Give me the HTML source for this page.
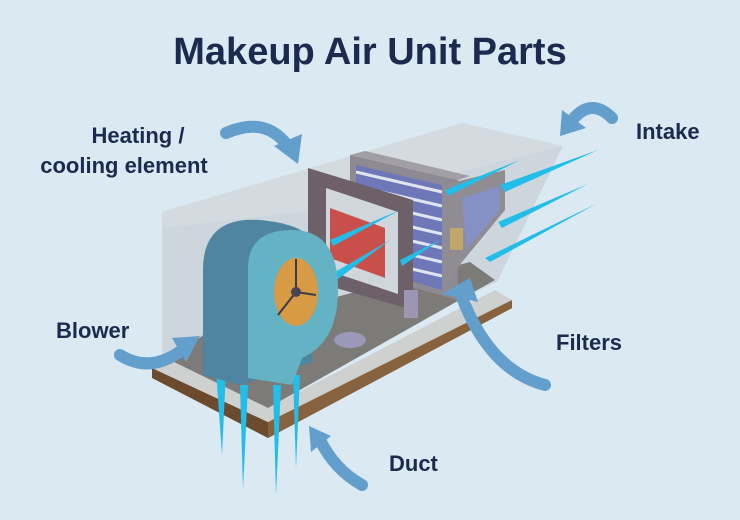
<!DOCTYPE html>
<html><head><meta charset="utf-8"><style>
html,body{margin:0;padding:0;background:#dae9f2;}
svg{display:block}
text{font-family:"Liberation Sans",sans-serif;fill:#1b2a4e}
</style></head><body>
<svg width="740" height="520" viewBox="0 0 740 520" xmlns="http://www.w3.org/2000/svg">
<rect width="740" height="520" fill="#dae9f2"/>
<text x="370" y="64" text-anchor="middle" font-size="38" font-weight="bold">Makeup Air Unit Parts</text>
<text x="138" y="143" text-anchor="middle" font-size="22" font-weight="bold">Heating /</text>
<text x="124" y="173" text-anchor="middle" font-size="22" font-weight="bold">cooling element</text>
<text x="636" y="139" font-size="22" font-weight="bold">Intake</text>
<text x="56" y="338" font-size="22" font-weight="bold">Blower</text>
<text x="556" y="350" font-size="22" font-weight="bold">Filters</text>
<text x="389" y="471" font-size="22" font-weight="bold">Duct</text>

<!-- back box translucent -->
<polygon points="162,212 462,123 563,146 497,282 270,380 162,362" fill="#cdd6dc"/>
<polygon points="162,212 462,123 563,146 300,212 162,228" fill="#d3dbe0"/>
<!-- platform -->
<polygon points="152,368 268,422 512,300 512,308 268,438 152,378" fill="#6b4a2e"/>
<polygon points="268,422 512,300 512,308 268,438" fill="#86623f"/>
<polygon points="152,368 170,360 268,408 495,290 512,300 268,422" fill="#cfd0d0"/>
<!-- floor -->
<polygon points="170,360 210,330 470,262 495,280 268,408" fill="#7c7b78"/>
<!-- filters back frame -->
<polygon points="350,155 458,180 458,300 350,270" fill="#8e8a93"/>
<polygon points="356,165 442,185 442,290 356,265" fill="#6e78b8"/>
<g stroke="#dfe4ef" stroke-width="3">
<line x1="356" y1="172" x2="442" y2="192"/><line x1="356" y1="186" x2="442" y2="206"/>
<line x1="356" y1="200" x2="442" y2="220"/><line x1="356" y1="214" x2="442" y2="234"/>
<line x1="356" y1="228" x2="442" y2="248"/><line x1="356" y1="242" x2="442" y2="262"/>
<line x1="356" y1="256" x2="442" y2="276"/>
</g>
<polygon points="350,155 365,151 470,176 458,180" fill="#a19ea6"/>
<polygon points="442,185 505,170 505,210 462,262 442,290" fill="#8f8c94"/>
<polygon points="462,198 500,186 500,210 466,250" fill="#8590c4"/>
<rect x="450" y="228" width="13" height="22" fill="#bfa66a"/>
<!-- heating element frame -->
<polygon points="308,168 413,200 413,310 308,280" fill="#6e6068"/>
<polygon points="326,188 398,212 398,294 326,270" fill="#cfd7dc"/>
<polygon points="330,208 385,228 385,278 330,258" fill="#c9504a"/>
<rect x="404" y="290" width="14" height="28" fill="#9c96b4"/>
<ellipse cx="350" cy="340" rx="16" ry="8" fill="#9c98b7"/>
<!-- air streaks -->
<g fill="#22bde8">
<polygon points="500,185 598,150 505,192"/><polygon points="498,222 588,184 502,228"/>
<polygon points="485,258 596,204 490,262"/><polygon points="445,190 520,160 448,196"/>
<polygon points="330,240 400,210 333,246"/><polygon points="330,275 390,240 334,282"/>
<polygon points="400,260 440,240 402,266"/>
<polygon points="216,370 222,455 226,370"/><polygon points="240,385 243,490 248,385"/>
<polygon points="273,385 276,495 281,385"/><polygon points="293,375 296,468 300,375"/>
</g>
<!-- blower -->
<path d="M203,375 L203,270 Q203,216 260,220 Q302,224 312,240 L312,362 L240,385 Z" fill="#4f85a0"/>
<path d="M248,378 L248,265 Q250,230 292,230 Q338,230 338,290 Q338,342 302,358 L292,385 Z" fill="#63b3c4"/>
<ellipse cx="296" cy="292" rx="22" ry="34" fill="#d89a45"/>
<g stroke="#3c3c48" stroke-width="2"><line x1="296" y1="292" x2="296" y2="259"/><line x1="296" y1="292" x2="278" y2="315"/><line x1="296" y1="292" x2="316" y2="295"/></g>
<circle cx="296" cy="292" r="5" fill="#4a4450"/>
<!-- pointer arrows -->
<g fill="none" stroke="#629fcd" stroke-width="12" stroke-linecap="round">
<path d="M226,133 Q265,116 287,145"/>
<path d="M612,118 Q592,98 574,118"/>
<path d="M120,355 Q150,374 182,350"/>
<path d="M545,385 Q488,370 460,292"/>
<path d="M362,485 Q335,470 320,440"/>
</g>
<g fill="#629fcd">
<polygon points="274,146 298,164 302,134"/>
<polygon points="562,110 560,136 586,128"/>
<polygon points="172,338 200,336 186,362"/>
<polygon points="442,294 470,278 478,302"/>
<polygon points="309,426 331,436 311,452"/>
</g>
</svg>
</body></html>
